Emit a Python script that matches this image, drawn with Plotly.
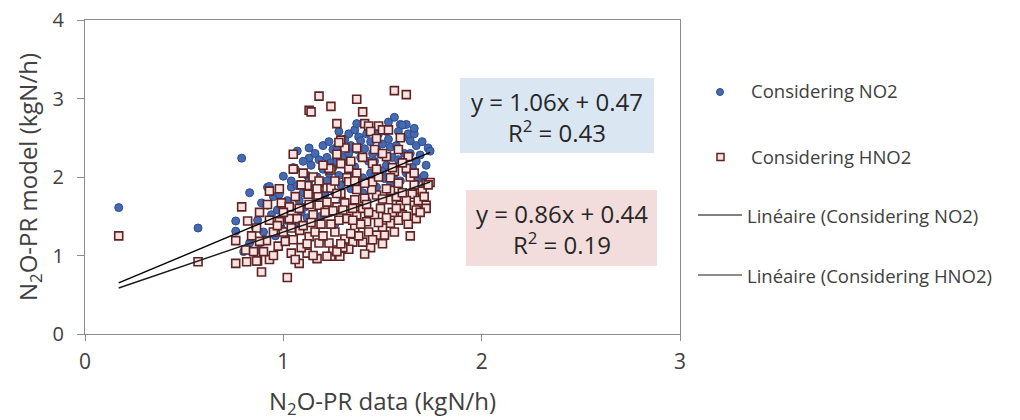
import plotly.graph_objects as go

# ---------------- data ----------------
no2_x = [0.17, 0.57, 0.79, 0.83, 0.76, 0.76, 0.80, 0.83, 0.88,
         0.89, 0.92, 0.93, 0.92, 0.87, 0.90, 0.94, 0.91, 0.86, 0.95,
         1.00, 0.98, 1.04, 1.02, 0.97, 1.01, 1.03, 0.99, 1.05, 1.04, 0.96, 1.02,
         1.07, 1.13, 1.13, 1.06, 1.07, 1.12, 1.10, 1.13, 1.08, 1.11, 1.14, 1.09, 1.06, 1.12, 1.15, 1.10,
         1.18, 1.25, 1.20, 1.22, 1.17, 1.19, 1.23, 1.21, 1.24, 1.16, 1.18, 1.22, 1.24, 1.20, 1.23, 1.25, 1.16, 1.19,
         1.27, 1.28, 1.30, 1.26, 1.25, 1.32, 1.29, 1.31, 1.33, 1.34, 1.27, 1.30, 1.33, 1.35, 1.28, 1.32, 1.26, 1.34,
         1.38, 1.39, 1.41, 1.39, 1.36, 1.40, 1.40, 1.37, 1.43, 1.42, 1.44, 1.36, 1.45, 1.38, 1.42, 1.44, 1.43, 1.37,
         1.47, 1.50, 1.49, 1.50, 1.54, 1.52, 1.48, 1.46, 1.53, 1.51, 1.55, 1.47, 1.49, 1.52, 1.54, 1.46, 1.53,
         1.56, 1.59, 1.62, 1.60, 1.58, 1.59, 1.56, 1.64, 1.63, 1.61, 1.57, 1.65, 1.60, 1.62, 1.58, 1.64,
         1.67, 1.73, 1.67, 1.65, 1.68, 1.67, 1.71, 1.69, 1.66, 1.72, 1.70, 1.74, 1.66]
no2_y = [1.61, 1.35, 2.24, 1.80, 1.44, 1.31, 1.05, 1.16, 1.07,
         1.67, 1.87, 1.88, 1.64, 1.45, 1.30, 1.52, 1.20, 1.35, 1.75,
         2.01, 1.78, 1.87, 1.70, 1.58, 1.45, 1.62, 1.35, 2.12, 1.95, 1.25, 1.22,
         2.33, 2.37, 2.24, 2.10, 1.89, 2.02, 1.80, 1.95, 1.70, 1.62, 2.15, 1.55, 1.40, 1.48, 1.85, 2.20,
         2.22, 2.35, 2.10, 2.25, 2.00, 1.92, 2.05, 1.78, 2.18, 1.75, 1.65, 1.95, 1.55, 2.40, 2.45, 2.12, 2.30, 1.50,
         2.38, 2.02, 2.25, 1.40, 1.56, 2.15, 1.90, 2.48, 2.30, 1.85, 2.20, 1.70, 2.55, 2.05, 2.58, 1.95, 1.80, 2.40,
         2.51, 2.46, 2.36, 2.25, 2.13, 1.99, 1.80, 2.35, 2.20, 2.55, 2.05, 2.60, 2.30, 1.90, 1.70, 2.45, 1.95, 2.68,
         1.87, 2.42, 2.29, 2.08, 2.38, 2.15, 2.55, 2.20, 2.48, 1.98, 2.25, 2.35, 2.62, 2.58, 1.90, 2.00, 2.70,
         2.76, 2.67, 2.67, 2.66, 2.22, 1.95, 1.97, 2.46, 2.55, 2.30, 2.40, 2.12, 2.50, 2.05, 2.58, 2.30,
         2.40, 2.37, 2.20, 2.12, 1.98, 1.95, 2.02, 2.28, 2.55, 2.15, 2.45, 2.33, 2.62]

hno2_x = [0.17, 0.57, 0.76, 0.76, 0.79, 0.82, 0.81, 0.815, 0.89, 1.02, 1.08, 0.87, 0.93,
          1.18, 1.37, 1.13, 1.14, 1.24, 1.40, 1.27, 1.41, 1.56, 1.62, 1.05, 1.05, 0.93,
          1.43, 1.48, 1.50, 1.53, 1.44, 1.47, 1.59, 1.29, 1.31, 1.37, 1.46, 1.58, 1.52, 1.63,
          1.29, 1.45, 1.33, 1.62, 1.56, 1.24, 1.32, 1.44, 1.54, 1.72, 1.28, 1.27, 1.23,
          1.74, 1.69, 1.65, 1.72, 1.66, 1.67, 1.59, 1.60, 1.54, 1.50, 1.51, 1.47, 1.44, 1.40,
          1.35, 1.31, 1.285, 1.24, 1.25, 1.36, 1.42, 1.32, 1.27, 1.31, 1.36, 1.41, 1.47, 1.53,
          1.57, 1.445, 1.37, 1.29, 1.33, 1.45, 1.54, 1.46, 1.37, 1.40, 1.70, 1.73, 1.72, 1.67,
          1.63, 1.58, 1.55, 1.62, 1.68, 1.49, 1.43, 1.38, 1.33, 1.30, 1.45, 1.52,
          0.865, 0.974, 1.04, 1.12, 1.17, 1.22, 1.27, 0.915, 0.865, 0.93, 0.98, 1.03, 1.083,
          1.13, 1.18, 1.23, 0.99, 1.03, 1.08, 1.125, 1.12, 1.175, 1.22, 1.24, 1.27, 1.18,
          1.25, 1.15, 1.07, 1.00, 0.95,
          0.85, 0.88, 0.90, 0.95, 0.97, 1.00, 1.01, 1.05, 1.06, 1.09, 1.10, 1.12, 1.14, 1.15,
          1.16, 1.19, 1.20, 1.21, 1.22, 1.26, 1.28, 1.29, 1.34, 1.35, 1.39, 1.41, 1.42, 1.48,
          1.50, 1.52, 1.56, 1.57, 1.60, 1.62, 1.64, 1.66, 1.69, 1.71, 0.98, 1.06, 1.09, 1.15,
          1.18, 1.10, 1.20, 0.88, 0.84, 0.92, 1.04, 1.13, 1.26, 1.37, 1.41, 1.48, 1.58, 1.64,
          1.50, 1.43, 1.35, 1.30, 1.24, 1.17, 1.36, 1.55, 1.47, 1.40, 1.34, 1.60, 1.50, 1.66]
hno2_y = [1.25, 0.92, 0.90, 1.19, 1.62, 1.44, 1.07, 0.92, 0.79, 0.72, 0.90, 0.93, 0.95,
          3.03, 2.99, 2.85, 2.83, 2.90, 2.83, 2.68, 2.68, 3.10, 3.05, 2.29, 2.10, 1.82,
          2.65, 2.65, 2.60, 2.60, 2.58, 2.49, 2.50, 2.47, 2.37, 2.37, 2.35, 2.35, 2.26, 2.26,
          2.17, 2.17, 2.11, 2.11, 2.07, 2.09, 1.99, 1.92, 1.99, 1.92, 2.44, 2.29, 2.11,
          1.93, 1.84, 1.78, 1.64, 1.64, 1.47, 1.64, 1.52, 1.41, 1.35, 1.26, 1.26, 1.10, 1.17,
          1.17, 1.21, 0.99, 0.99, 1.07, 1.35, 1.43, 1.47, 1.62, 1.67, 1.71, 1.73, 1.77, 1.71,
          1.75, 1.84, 1.84, 1.79, 1.94, 1.94, 1.83, 1.52, 1.52, 1.60, 1.82, 1.90, 1.60, 1.58,
          1.40, 1.45, 1.55, 1.70, 1.70, 1.60, 1.30, 1.25, 1.08, 1.10, 1.20, 1.48,
          0.93, 1.12, 1.03, 1.03, 0.96, 0.99, 1.05, 1.19, 1.35, 1.45, 1.43, 1.47, 1.32,
          1.24, 1.16, 1.16, 1.67, 1.62, 1.60, 1.78, 1.89, 1.77, 1.86, 1.86, 1.79, 1.64,
          1.57, 1.52, 1.47, 1.30, 1.30,
          1.05, 1.18, 1.05, 1.00, 1.38, 1.55, 1.18, 1.20, 0.95, 1.10, 1.38, 1.15, 1.42, 1.00,
          1.30, 1.40, 1.25, 1.55, 1.68, 1.30, 1.45, 1.15, 1.28, 1.60, 1.40, 1.02, 1.65, 1.42,
          1.15, 1.85, 1.30, 1.60, 1.80, 1.50, 1.25, 1.90, 1.55, 1.75, 1.85, 1.75, 1.90, 2.00,
          1.95, 2.05, 2.15, 1.55, 1.25, 1.65, 1.35, 1.65, 1.95, 2.05, 1.92, 2.00, 1.92, 2.00,
          1.72, 1.55, 1.45, 1.58, 1.40, 1.85, 1.95, 2.12, 2.10, 2.25, 2.20, 2.18, 2.30, 2.05]

# trend-line coefficients printed on the chart
no2_fit = (1.06, 0.47, "0.43")
hno2_fit = (0.86, 0.44, "0.19")

x_ticks = [0, 1, 2, 3]
y_ticks = [0, 1, 2, 3, 4]

legend_labels = ["Considering NO2", "Considering HNO2",
                 "Linéaire (Considering NO2)", "Linéaire (Considering HNO2)"]

# ---------------- layout helpers ----------------
W, H = 1020, 420          # browser window
OFF = 8                   # default page body margin
PL, PR, PT, PB = 85, 680, 20, 334   # plot area in window pixels


def xp(px):
    return (px - PL) / (PR - PL)


def yp(py):
    return (PB - py) / (PB - PT)


FONT = "Open Sans"
TXT = "#404040"
BLUE = "rgb(70,106,178)"
BLUE_EDGE = "rgb(45,75,140)"
SQ_FILL = "rgb(248,226,226)"
SQ_EDGE = "rgb(95,35,35)"

fig = go.Figure()

fig.add_trace(go.Scatter(
    x=no2_x, y=no2_y, mode="markers", name=legend_labels[0],
    marker=dict(symbol="circle", size=8, color=BLUE,
                line=dict(color=BLUE_EDGE, width=1)),
    showlegend=False))

fig.add_trace(go.Scatter(
    x=hno2_x, y=hno2_y, mode="markers", name=legend_labels[1],
    marker=dict(symbol="square", size=8, color=SQ_FILL,
                line=dict(color=SQ_EDGE, width=1.6)),
    showlegend=False))

for (xs, fit, col, nm) in [(no2_x, no2_fit, "#000000", legend_labels[2]),
                           (hno2_x, hno2_fit, "#1a1a1a", legend_labels[3])]:
    x0, x1 = min(xs), max(xs)
    fig.add_trace(go.Scatter(
        x=[x0, x1], y=[fit[0] * x0 + fit[1], fit[0] * x1 + fit[1]],
        mode="lines", name=nm, line=dict(color=col, width=1.4),
        showlegend=False))

shapes = []
annotations = []

# equation boxes
boxes = [
    (460, 654, 78, 153, "rgb(219,230,243)", no2_fit, 117),
    (466, 657, 190, 266, "rgb(242,221,220)", hno2_fit, 229),
]
for (bx0, bx1, by0, by1, fill, fit, ty) in boxes:
    shapes.append(dict(type="rect", xref="paper", yref="paper",
                       x0=xp(bx0), x1=xp(bx1), y0=yp(by1), y1=yp(by0),
                       fillcolor=fill, line=dict(width=0), layer="above"))
    cx = xp((bx0 + bx1) / 2)
    annotations.append(dict(xref="paper", yref="paper", x=cx, y=yp(ty),
                            text=(f"y = {fit[0]:.2f}x + {fit[1]:.2f}<br>"
                                  f"R<sup>2</sup> = {fit[2]}"),
                            showarrow=False, xanchor="center", yanchor="middle",
                            align="center",
                            font=dict(family=FONT, size=24, color="#262626")))

# manual legend
shapes.append(dict(type="circle", xref="paper", yref="paper",
                   x0=xp(716.5), x1=xp(723.5), y0=yp(95.5), y1=yp(88.5),
                   fillcolor=BLUE, line=dict(color=BLUE_EDGE, width=1)))
shapes.append(dict(type="rect", xref="paper", yref="paper",
                   x0=xp(717), x1=xp(724), y0=yp(160.5), y1=yp(153.5),
                   fillcolor=SQ_FILL, line=dict(color=SQ_EDGE, width=1.5)))
shapes.append(dict(type="line", xref="paper", yref="paper",
                   x0=xp(698), x1=xp(742), y0=yp(215), y1=yp(215),
                   line=dict(color="#000000", width=1)))
shapes.append(dict(type="line", xref="paper", yref="paper",
                   x0=xp(698), x1=xp(742), y0=yp(275), y1=yp(275),
                   line=dict(color="#1a1a1a", width=1)))
for lab, lx, ly in zip(legend_labels, [749, 749, 745, 745], [91, 156, 215, 275]):
    annotations.append(dict(xref="paper", yref="paper", x=xp(lx), y=yp(ly),
                            text=lab, showarrow=False, xanchor="left",
                            yanchor="middle",
                            font=dict(family=FONT, size=18.5, color=TXT)))

fig.update_layout(
    width=W - OFF, height=H - OFF,
    margin=dict(l=PL - OFF, r=W - PR, t=PT - OFF, b=H - PB, pad=0,
                autoexpand=False),
    paper_bgcolor="white", plot_bgcolor="white",
    showlegend=False,
    shapes=shapes, annotations=annotations,
    font=dict(family=FONT, color=TXT),
    xaxis=dict(range=[0, 3], tickvals=x_ticks, ticktext=[str(v) for v in x_ticks],
               automargin=False,
               showgrid=False, zeroline=False, showline=True, linecolor="#8c8c8c",
               linewidth=1, mirror=True, ticks="outside", ticklen=6,
               tickcolor="#8c8c8c", tickfont=dict(family=FONT, size=21, color=TXT),
               ticklabelstandoff=3, ticklabeloverflow="allow",
               title=dict(text="N<sub>2</sub>O-PR data (kgN/h)", standoff=26,
                          font=dict(family=FONT, size=24, color=TXT))),
    yaxis=dict(range=[0, 4], tickvals=y_ticks, ticktext=[str(v) for v in y_ticks],
               automargin=False,
               showgrid=False, zeroline=False, showline=True, linecolor="#8c8c8c",
               linewidth=1, mirror=True, ticks="outside", ticklen=7,
               tickcolor="#8c8c8c", tickfont=dict(family=FONT, size=20, color=TXT),
               ticklabelstandoff=9, ticklabeloverflow="allow",
               title=dict(text="N<sub>2</sub>O-PR model (kgN/h)", standoff=8,
                          font=dict(family=FONT, size=24, color=TXT))),
)

fig.write_html("out.html")
